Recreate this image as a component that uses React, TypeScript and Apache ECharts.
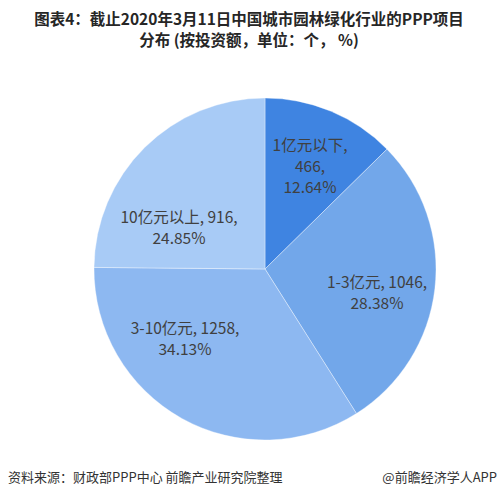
import React, { useEffect, useRef } from "react";
import * as echarts from "echarts";

const categories = ["1亿元以下", "1-3亿元", "3-10亿元", "10亿元以上"];
const counts = [466, 1046, 1258, 916];
const percents = ["12.64", "28.38", "34.13", "24.85"];
const colors = ["#3f84e1", "#72a7ea", "#8db8f1", "#a8cbf6"];
// label block centres (layout only)
const labelCenters = [
  [310, 165],
  [377, 291],
  [185, 337],
  [179, 226],
];

const titleLine1 = "图表4：截止2020年3月11日中国城市园林绿化行业的PPP项目";
const titleLine2 = "分布 (按投资额，单位：个， %)";
const sourceText = "资料来源：财政部PPP中心 前瞻产业研究院整理";
const brandText = "@前瞻经济学人APP";

export default function App() {
  const ref = useRef<HTMLDivElement>(null);
  useEffect(() => {
    if (!ref.current) return;
    const chart = echarts.init(ref.current, null, { renderer: "svg" });
    const font = "'Noto Sans CJK SC', 'Noto Sans', sans-serif";
    const data = categories.map((name, i) => ({
      name,
      value: counts[i],
      itemStyle: { color: colors[i] },
    }));
    const titleStyle = (text: string) => ({
      text,
      fill: "#262626",
      font: `bold 15.5px ${font}`,
      align: "center",
      verticalAlign: "middle",
    });
    chart.setOption({
      animation: false,
      backgroundColor: "#ffffff",
      graphic: [
        { type: "text", x: 249, y: 18, style: titleStyle(titleLine1) },
        { type: "text", x: 249, y: 39, style: titleStyle(titleLine2) },
        {
          type: "text",
          left: 8,
          top: 470,
          style: { text: sourceText, fill: "#333333", font: `13px ${font}` },
        },
        {
          type: "text",
          right: 2,
          top: 470,
          style: { text: brandText, fill: "#333333", font: `13px ${font}` },
        },
      ],
      series: [
        {
          type: "pie",
          center: [265, 269],
          radius: [0, 171],
          startAngle: 90,
          clockwise: true,
          data,
          itemStyle: { borderColor: "rgba(255,255,255,0.6)", borderWidth: 0.6 },
          label: {
            show: true,
            position: "inside",
            fontFamily: font,
            fontSize: 15.5,
            lineHeight: 21,
            color: "#404040",
            align: "center",
            formatter: (p: any) => {
              const i = p.dataIndex;
              if (i === 0) return `${categories[i]},\n${counts[i]},\n${percents[i]}%`;
              return `${categories[i]}, ${counts[i]},\n${percents[i]}%`;
            },
          },
          labelLine: { show: false },
          labelLayout: (params: any) => {
            const c = labelCenters[params.dataIndex];
            return { x: c[0], y: c[1], align: "center", verticalAlign: "middle" };
          },
          emphasis: { disabled: true },
        },
      ],
    });
    return () => chart.dispose();
  }, []);
  return (
    <div
      ref={ref}
      style={{ position: "fixed", left: 0, top: 0, width: 499, height: 499 }}
    />
  );
}
